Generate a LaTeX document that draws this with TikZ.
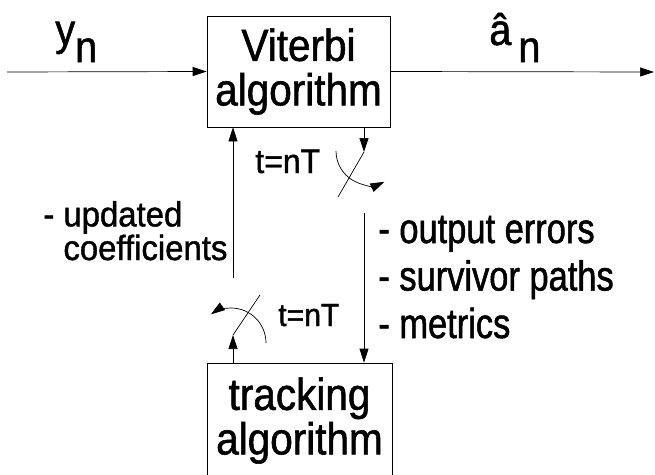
\documentclass[tikz,border=0pt]{standalone}
\usepackage{fontspec}
\setmainfont{Liberation Sans}
\newfontfamily\boxsans[FakeStretch=0.9, FakeBold=1.2]{Liberation Sans}
\newfontfamily\narrowsans[FakeStretch=0.82, FakeBold=1.2]{Liberation Sans}
\newfontfamily\labelsans[FakeStretch=0.94, FakeBold=1.2]{Liberation Sans}
\usetikzlibrary{arrows.meta}

\begin{document}
\begin{tikzpicture}[x=1pt, y=-1pt, line width=.7pt,
	>={Triangle[length=14pt, width=9pt]},
	block/.style={draw, inner sep=0pt, align=center,
		font=\boxsans\fontsize{45}{44.5}\selectfont},
	lbl/.style={inner sep=0pt, anchor=base west}]

% page frame
	\useasboundingbox (0,0) rectangle (655,474);
	\clip (0,0) rectangle (655,474);

% blocks
	\node[block, minimum width=183pt, minimum height=111pt] (vit) at (298.5,71.5) {Viterbi\\algorithm};
	\node[block, minimum width=185pt, minimum height=115pt] (trk) at (299.5,420.5) {tracking\\algorithm};

% input and output
	\coordinate (in) at (7,72);
	\coordinate (out) at (654,72);
	\draw[->] (in) -- (vit.west);
	\draw[->] (vit.east) -- (out);
	\node[lbl, font=\boxsans\fontsize{44}{44}\selectfont] (yn) at (55,45) {y\raisebox{-17pt}{n}};
	\node[lbl, font=\boxsans\fontsize{44}{44}\selectfont] (an) at (489,45) {â\hspace{7pt}\raisebox{-17pt}{n}};

% switch down to tracking
	\coordinate (s1) at (364,152);
	\coordinate (s1end) at (338,197);
	\coordinate (s1out) at (364,213);
	\coordinate (a1) at (336,151);
	\draw[->] (vit.south -| s1) -- (s1);
	\draw (s1) -- (s1end);
	\draw[->] (a1) arc[start angle=180, end angle=65, radius=34];
	\draw[->] (s1out) -- (s1out |- trk.north);
	\node[lbl, font=\labelsans\fontsize{34}{36}\selectfont] (t1) at (255,173) {t=nT};

% switch up to Viterbi
	\coordinate (s2) at (233,335);
	\coordinate (s2end) at (260,295);
	\coordinate (s2out) at (233,278);
	\coordinate (a2) at (266,343);
	\draw[->] (trk.north -| s2) -- (s2);
	\draw (s2) -- (s2end);
	\draw[->] (a2) arc[start angle=0, end angle=-125, radius=35];
	\draw[->] (s2out) -- (s2out |- vit.south);
	\node[lbl, font=\labelsans\fontsize{32}{36}\selectfont] (t2) at (278,326) {t=nT};

% labels
	\node[lbl, align=left, font=\labelsans\fontsize{35}{30}\selectfont] (coef) at (43,260) {- updated\\\phantom{- }coefficients};
	\node[lbl, align=left, font=\narrowsans\fontsize{42}{47.5}\selectfont] (info) at (378,338) {- output errors\\- survivor paths\\- metrics};

\end{tikzpicture}
\end{document}
